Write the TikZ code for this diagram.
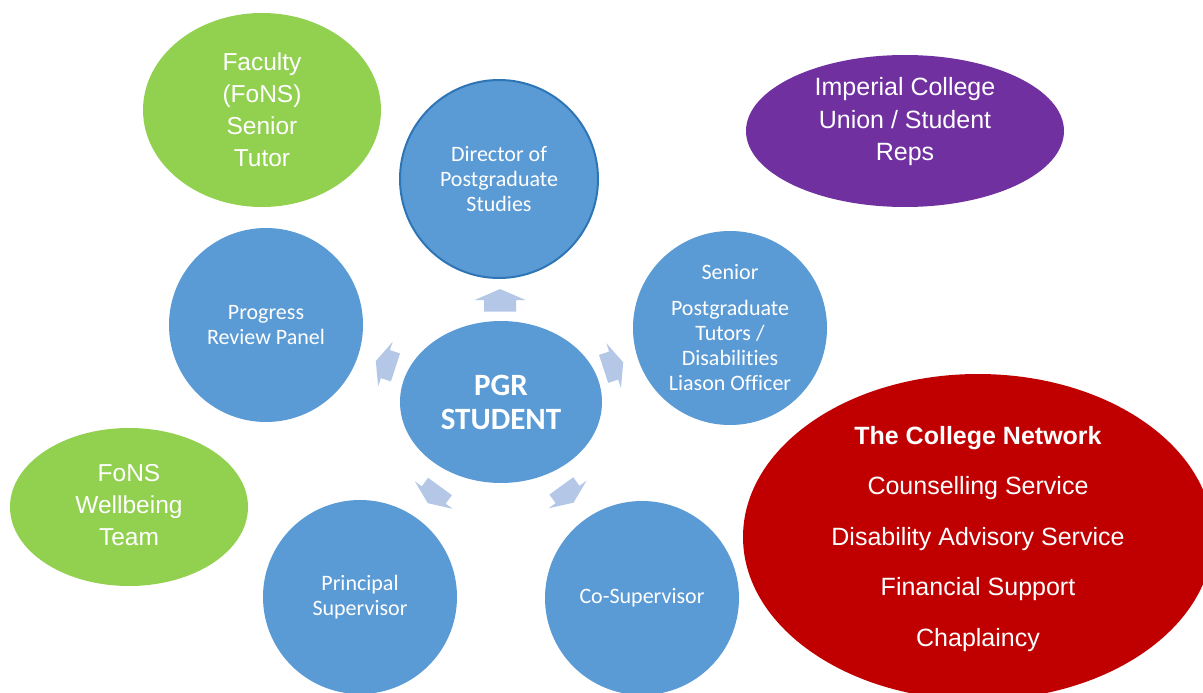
\documentclass[tikz,border=0pt]{standalone}
\usepackage{fontspec}
\setmainfont{Liberation Sans}
\newfontfamily\calfont[Ligatures=NoCommon]{Carlito}
\usetikzlibrary{shapes.geometric,calc}
\definecolor{bluec}{HTML}{5B9BD5}
\definecolor{blueb}{HTML}{2E75B6}
\definecolor{arr}{HTML}{B4C7E7}
\definecolor{greenc}{HTML}{92D050}
\definecolor{purp}{HTML}{7030A0}
\definecolor{redc}{HTML}{C00000}
\begin{document}
\begin{tikzpicture}[x=1pt,y=-1pt,
  bcirc/.style={circle, fill=bluec, minimum size=194pt, inner sep=0pt, text=white, align=center,
    font=\calfont\fontsize{22}{25}\selectfont},
  oval/.style={ellipse, inner sep=0pt},
  ovtext/.style={text=white, align=center, inner sep=0pt, font=\fontsize{24.5}{32}\selectfont},
  pics/blockarrow/.style={code={
    \fill[arr] (-11,-16) -- (0.5,-16) -- (0.5,-25.5) -- (11.5,0) -- (0.5,25.5) -- (0.5,16) -- (-11,16) -- cycle;}}
]
\useasboundingbox (0,0) rectangle (1203,693);
\clip (0,0) rectangle (1203,693);
\fill[white] (0,0) rectangle (1203,693);

% green / purple / red ovals
\node[oval, fill=greenc, minimum width=238pt, minimum height=194pt] (fac) at (262,110) {};
\node[ovtext] (factxt) at (fac.center) {Faculty\\(FoNS)\\Senior\\Tutor};

\node[oval, fill=purp, minimum width=318pt, minimum height=152pt] (icu) at (905,131) {};
\node[ovtext, font=\fontsize{25}{32.5}\selectfont] (icutxt) at (905,122) {Imperial College\\Union / Student\\Reps};

\node[oval, fill=greenc, minimum width=238pt, minimum height=158pt] (well) at (129,507) {};
\node[ovtext] (welltxt) at (129,505) {FoNS\\Wellbeing\\Team};

\node[oval, fill=redc, minimum width=470pt, minimum height=326pt] (net) at (978,537) {};
\node[ovtext, font=\fontsize{25}{50.5}\selectfont] (nettxt) at (978,539)
  {\textbf{The College Network}\\Counselling Service\\Disability Advisory Service\\Financial Support\\Chaplaincy};

% blue circles
\node[bcirc, draw=blueb, line width=2pt, minimum size=198pt] (dir) at (499,179) {Director of\\Postgraduate\\Studies};
\node[bcirc] (prp) at (266,325) {Progress\\Review Panel};
\node[bcirc] (spt) at (730,328) {Senior\\[11pt]Postgraduate\\Tutors /\\Disabilities\\Liason Officer};
\node[bcirc] (ps) at (360,597) {Principal\\Supervisor};
\node[bcirc] (cs) at (642,598) {Co-Supervisor};

\node[ellipse, fill=bluec, minimum width=202pt, minimum height=162pt, inner sep=0pt, text=white, align=center,
  font=\calfont\bfseries\fontsize{31}{34}\selectfont] (pgr) at (501,402) {PGR\\STUDENT};

% block arrows from the student outwards
\pic[rotate=90]  at ($(pgr.center)!0.455!(dir.center)$) {blockarrow};
\pic[rotate=162, scale=0.92] at ($(pgr.center)!0.49!(prp.center)$) {blockarrow};
\pic[rotate=18,  scale=0.92] at ($(pgr.center)!0.49!(spt.center)$) {blockarrow};
\pic[rotate=234, scale=0.92] at ($(pgr.center)!0.475!(ps.center)$) {blockarrow};
\pic[rotate=306, scale=0.92] at ($(pgr.center)!0.47!(cs.center)$) {blockarrow};
\end{tikzpicture}
\end{document}
